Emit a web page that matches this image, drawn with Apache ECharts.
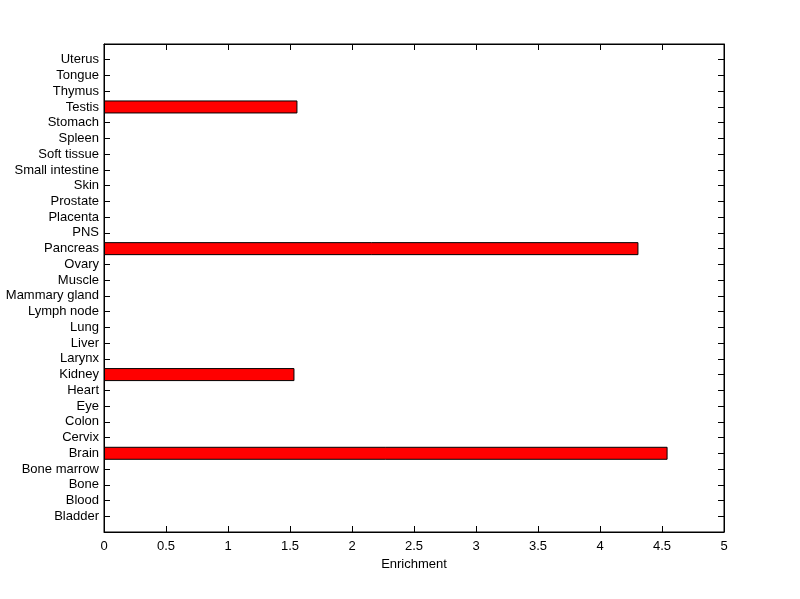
<!DOCTYPE html>
<html>
<head>
<meta charset="utf-8">
<script src="https://cdn.jsdelivr.net/npm/echarts@6/dist/echarts.min.js"></script>
<style>html,body{margin:0;padding:0;background:#fff;}#c{width:800px;height:599px;}</style>
</head>
<body>
<div id="c"></div>
<script>
const categories = ['Bladder','Blood','Bone','Bone marrow','Brain','Cervix','Colon','Eye','Heart','Kidney','Larynx','Liver','Lung','Lymph node','Mammary gland','Muscle','Ovary','Pancreas','PNS','Placenta','Prostate','Skin','Small intestine','Soft tissue','Spleen','Stomach','Testis','Thymus','Tongue','Uterus'];
const enrichment = [0,0,0,0,4.545,0,0,0,0,1.536,0,0,0,0,0,0,0,4.31,0,0,0,0,0,0,0,0,1.56,0,0,0];
const xTicks = [0,0.5,1,1.5,2,2.5,3,3.5,4,4.5,5];

const cats = [''].concat(categories).concat(['']);
const vals = [null].concat(enrichment.map(v => v === 0 ? null : v)).concat([null]);

const font = 'Liberation Sans, Arial, sans-serif';
const chart = echarts.init(document.getElementById('c'));
chart.setOption({
  animation: false,
  backgroundColor: '#fff',
  grid: {left: 104, right: 76, top: 44, bottom: 67, show: true, borderColor: '#000', borderWidth: 1, containLabel: false},
  xAxis: [{
    type: 'value', min: xTicks[0], max: xTicks[xTicks.length - 1], interval: 0.5, position: 'bottom',
    name: 'Enrichment', nameLocation: 'middle', nameGap: 25,
    nameTextStyle: {color: '#000', fontSize: 13, fontFamily: font},
    axisLine: {show: true, onZero: false, lineStyle: {color: '#000'}},
    axisTick: {show: true, inside: true, length: 6, lineStyle: {color: '#000'}},
    axisLabel: {color: '#000', fontSize: 13, fontFamily: font, margin: 8, formatter: v => String(v)},
    splitLine: {show: false}
  }, {
    type: 'value', min: xTicks[0], max: xTicks[xTicks.length - 1], interval: 0.5, position: 'top',
    axisLine: {show: true, onZero: false, lineStyle: {color: '#000'}},
    axisTick: {show: true, inside: true, length: 6, lineStyle: {color: '#000'}},
    axisLabel: {show: false}, splitLine: {show: false}
  }],
  yAxis: [{
    type: 'category', data: cats, boundaryGap: false, position: 'left',
    axisLine: {show: true, onZero: false, lineStyle: {color: '#000'}},
    axisTick: {show: true, inside: true, length: 6, interval: 0, lineStyle: {color: '#000'}},
    axisLabel: {color: '#000', fontSize: 13, fontFamily: font, margin: 5, interval: 0},
    splitLine: {show: false}
  }, {
    type: 'category', data: cats, boundaryGap: false, position: 'right',
    axisLine: {show: true, onZero: false, lineStyle: {color: '#000'}},
    axisTick: {show: true, inside: true, length: 6, interval: 0, lineStyle: {color: '#000'}},
    axisLabel: {show: false}, splitLine: {show: false}
  }],
  series: [{
    type: 'bar', xAxisIndex: 0, yAxisIndex: 0, data: vals, barWidth: 13,
    itemStyle: {color: '#ff0000', borderColor: '#000', borderWidth: 1}
  }]
});
</script>
</body>
</html>
